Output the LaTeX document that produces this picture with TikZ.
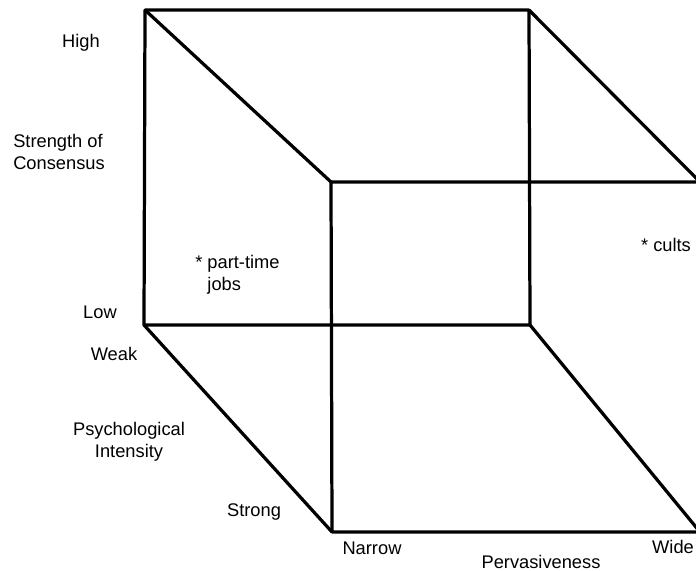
\documentclass[tikz,border=0pt]{standalone}
\usepackage{fontspec}
\setmainfont{Liberation Sans}
\tikzset{
  lbl/.style={font=\fontsize{13}{16}\selectfont, inner sep=0pt},
  edge/.style={line width=2.3pt, line join=round}
}
\begin{document}
\begin{tikzpicture}[x=0.025cm,y=-0.025cm]

\useasboundingbox (0,0) rectangle (696,571);
\clip (0,0) rectangle (696,571);

% corners of the back face
\coordinate (bTL) at (145,10);
\coordinate (bTR) at (529,10);
\coordinate (bBL) at (144,325);
\coordinate (bBR) at (530,325);

% corners of the front face
\coordinate (fTL) at (331,182);
\coordinate (fTR) at (700,182);
\coordinate (fBL) at (332,532);
\coordinate (fBR) at (700,532);

\draw[edge] (bTL) -- (bTR) -- (bBR) -- (bBL) -- cycle;
\draw[edge] (fTR) -- (fTL) -- (fBL) -- (fBR);

\foreach \c in {TL,TR,BL,BR} {
        \draw[edge] (b\c) -- (f\c);
 }

% axis labels
\node[lbl] (high) at (81,43) {High};
\node[lbl, align=left, anchor=west] (consensus) at (13,152) {Strength of\\Consensus};
\node[lbl] (low) at (100,312) {Low};
\node[lbl] (weak) at (114,354) {Weak};
\node[lbl, align=center] (intensity) at (129,442) {Psychological\\Intensity};
\node[lbl] (strong) at (254,512) {Strong};
\node[lbl] (narrow) at (372,548) {Narrow};
\node[lbl] (wide) at (673,547) {Wide};
\node[lbl] (pervasive) at (541,562) {Pervasiveness};

% examples
\node[lbl, align=left, anchor=west] (jobs) at (195,275) {* part-time\\\phantom{* }jobs};
\node[lbl] (cults) at (666,245) {* cults};

\end{tikzpicture}
\end{document}
